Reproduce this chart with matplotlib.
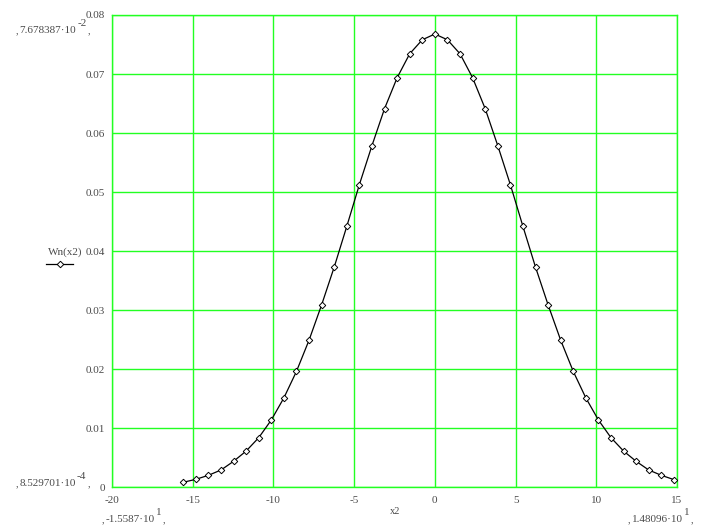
import matplotlib
matplotlib.use("Agg")
import matplotlib.pyplot as plt
from matplotlib.lines import Line2D
from matplotlib.ticker import FixedLocator, FixedFormatter

plt.rcParams['font.family'] = ['Liberation Serif', 'DejaVu Serif']
plt.rcParams['axes.unicode_minus'] = False

# data: x2 sample positions and Wn(x2) values
x2 = [-15.587, -14.808, -14.029, -13.249, -12.470, -11.691, -10.912, -10.132,
      -9.353, -8.574, -7.794, -7.015, -6.235, -5.456, -4.676, -3.897, -3.118,
      -2.338, -1.559, -0.779, 0.000, 0.779, 1.559, 2.338, 3.118, 3.897, 4.676,
      5.456, 6.235, 7.015, 7.794, 8.574, 9.353, 10.132, 10.912, 11.691, 12.470,
      13.249, 14.029, 14.810]
wn = [0.000853, 0.00135, 0.00203, 0.00293, 0.00440, 0.00614, 0.00840, 0.01140,
      0.01514, 0.01963, 0.02492, 0.03090, 0.03730, 0.04420, 0.05127, 0.05787,
      0.06413, 0.06937, 0.07343, 0.07580, 0.07678, 0.07580, 0.07343, 0.06937,
      0.06413, 0.05787, 0.05127, 0.04420, 0.03730, 0.03090, 0.02492, 0.01963,
      0.01514, 0.01140, 0.00840, 0.00614, 0.00440, 0.00293, 0.00203, 0.00130]

xticks = [-20, -15, -10, -5, 0, 5, 10, 15]
xticklabels = ['-20', '-15', '-10', '-5', '0', '5', '10', '15']
yticks = [0, 0.01, 0.02, 0.03, 0.04, 0.05, 0.06, 0.07, 0.08]
yticklabels = ['0', '0.01', '0.02', '0.03', '0.04', '0.05', '0.06', '0.07', '0.08']

# range annotations (mantissa, exponent)
ymax_lbl = ('7.678387·10', '-2')
ymin_lbl = ('8.529701·10', '-4')
xmin_lbl = ('-1.5587·10', '1')
xmax_lbl = ('1.48096·10', '1')

W, H = 702, 526
fig = plt.figure(figsize=(W / 100, H / 100), dpi=100)
ax = fig.add_axes([112 / W, (H - 487.3) / H, 565 / W, 472.3 / H])

green = '#22ff22'
txtc = '#4a4a4a'
fs = 8
ax.plot(x2, wn, color='black', lw=0.9, marker='D', markersize=3.3,
        markerfacecolor='white', markeredgecolor='black', markeredgewidth=0.7,
        zorder=3)

ax.set_xlim(-20, 15)
ax.set_ylim(0, 0.08)
ax.xaxis.set_major_locator(FixedLocator(xticks))
ax.xaxis.set_major_formatter(FixedFormatter(xticklabels))
ax.yaxis.set_major_locator(FixedLocator(yticks))
ax.yaxis.set_major_formatter(FixedFormatter(yticklabels))
ax.grid(True, color=green, lw=1.0, zorder=0)
for s in ax.spines.values():
    s.set_color(green)
    s.set_linewidth(1.0)
ax.tick_params(length=0, labelsize=fs, labelcolor=txtc, pad=6)
ax.tick_params(axis='y', pad=5)

renderer = fig.canvas.get_renderer()

def px(x, y):
    return x / W, 1 - y / H

def sci_label(x, y, lbl):
    t0 = fig.text(*px(x, y), ',', fontsize=fs - 1, color=txtc, ha='left', va='baseline')
    e0 = t0.get_window_extent(renderer)
    t1 = fig.text(e0.x1 / W + 1 / W, 1 - y / H, lbl[0], fontsize=fs, color=txtc,
                  ha='left', va='baseline')
    e1 = t1.get_window_extent(renderer)
    t2 = fig.text(e1.x1 / W + 1 / W, 1 - (y - 7) / H, lbl[1], fontsize=fs, color=txtc,
                  ha='left', va='baseline')
    e2 = t2.get_window_extent(renderer)
    fig.text(e2.x1 / W + 1 / W, 1 - y / H, ',', fontsize=fs - 1, color=txtc,
             ha='left', va='baseline')

sci_label(16, 33, ymax_lbl)
sci_label(16, 486, ymin_lbl)
sci_label(102, 522, xmin_lbl)
sci_label(628, 522, xmax_lbl)

fig.text(*px(395, 512), 'x2', fontsize=fs - 0.5, color=txtc, ha='center', va='center')
fig.text(*px(48, 252), 'Wn(x2)', fontsize=fs, color=txtc, ha='left', va='center')
fig.add_artist(Line2D([46 / W, 73 / W], [1 - 264 / H, 1 - 264 / H],
               color='black', lw=0.9))
fig.add_artist(Line2D([60 / W], [1 - 264 / H], color='black',
               marker='D', markersize=3.3, markerfacecolor='white',
               markeredgewidth=0.7, lw=0))

fig.savefig('out.png', dpi=100)
